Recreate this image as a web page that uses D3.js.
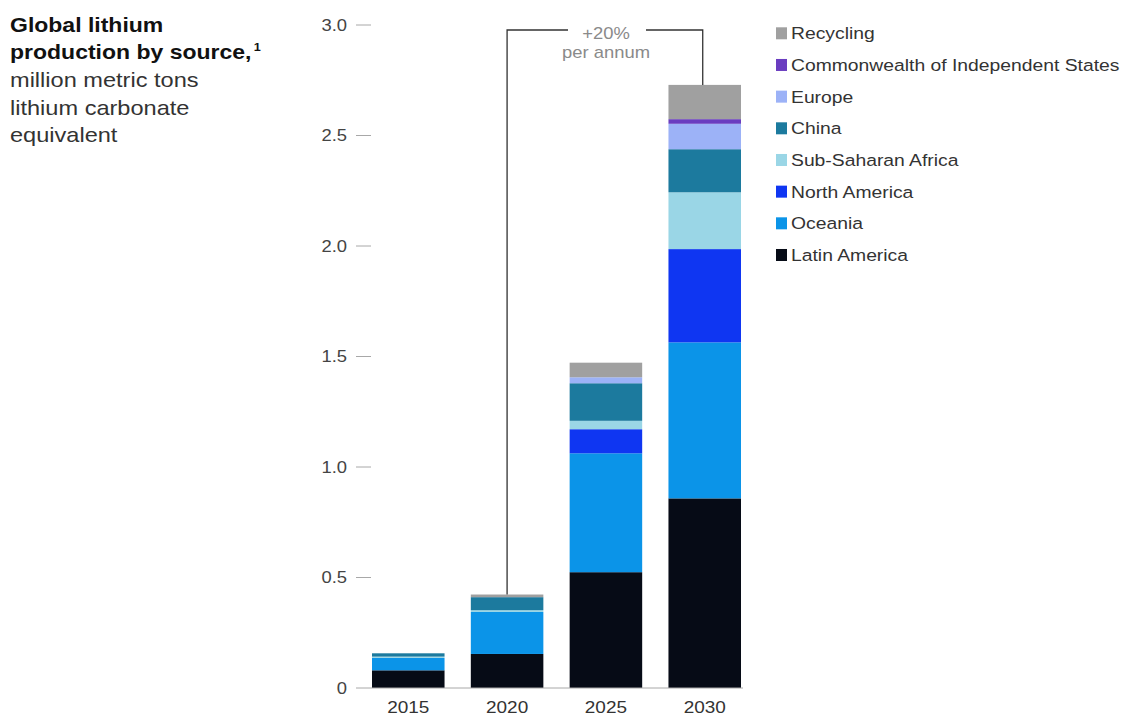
<!DOCTYPE html>
<html>
<head>
<meta charset="utf-8">
<script src="https://cdn.jsdelivr.net/npm/d3@7"></script>
<style>
  html, body { margin: 0; padding: 0; background: #ffffff; }
  svg { display: block; font-family: "Liberation Sans", Arial, Helvetica, sans-serif; }
</style>
</head>
<body>
<svg id="chart" width="1126" height="718"></svg>
<script>
// Global lithium production by source, million metric tons LCE
const years = ["2015", "2020", "2025", "2030"];
const latinAmerica     = [0.080, 0.154, 0.524, 0.858];
const oceania          = [0.056, 0.190, 0.538, 0.706];
const northAmerica     = [0.000, 0.000, 0.109, 0.422];
const subSaharanAfrica = [0.006, 0.008, 0.038, 0.257];
const china            = [0.015, 0.059, 0.170, 0.195];
const europe           = [0.000, 0.000, 0.027, 0.115];
const cis              = [0.000, 0.000, 0.000, 0.021];
const recycling        = [0.000, 0.012, 0.066, 0.155];

const yTicks = [0, 0.5, 1.0, 1.5, 2.0, 2.5, 3.0];
const yTickLabels = ["0", "0.5", "1.0", "1.5", "2.0", "2.5", "3.0"];
const growthLabel = ["+20%", "per annum"];

// stacking order: bottom to top
const seriesNames = ["Latin America", "Oceania", "North America", "Sub-Saharan Africa",
  "China", "Europe", "Commonwealth of Independent States", "Recycling"];
const seriesValues = [latinAmerica, oceania, northAmerica, subSaharanAfrica,
  china, europe, cis, recycling];
const seriesColors = ["#060b16", "#0b94e8", "#0f36f2", "#9ad6e6",
  "#1c7a9e", "#9cb2f7", "#6a3dc0", "#a0a0a0"];

const rows = years.map((y, i) => {
  const r = { year: y };
  seriesNames.forEach((n, k) => { r[n] = seriesValues[k][i]; });
  return r;
});

const svg = d3.select("#chart");
const SX = 1.15; // the typeface used here is set slightly wide

function label(g, x, y, txt, opts) {
  const t = g.append("text")
    .attr("transform", `translate(${x},${y}) scale(${SX},1)`)
    .attr("font-size", opts.size)
    .attr("fill", opts.fill || "#333")
    .attr("font-weight", opts.weight || "normal")
    .attr("text-anchor", opts.anchor || "start")
    .text(txt);
  return t;
}

// scales
const x = d3.scaleBand().domain(years).range([372, 741]).paddingInner(0.266).paddingOuter(0);
const y = d3.scaleLinear().domain([0, 3]).range([688, 25]);

// stacked bars
const stack = d3.stack().keys(seriesNames);
const layers = stack(rows);

svg.append("g").selectAll("g")
  .data(layers)
  .join("g")
  .attr("fill", (d, i) => seriesColors[i])
  .selectAll("rect")
  .data(d => d)
  .join("rect")
  .attr("x", d => x(d.data.year))
  .attr("width", x.bandwidth())
  .attr("y", d => y(d[1]))
  .attr("height", d => Math.max(0, y(d[0]) - y(d[1])));

// y axis: labels with short dashes
const yAxisG = svg.append("g");
yTicks.forEach((v, i) => {
  label(yAxisG, 347, y(v) + 5.5, yTickLabels[i], { size: 16, fill: "#444", anchor: "end" });
  yAxisG.append("line")
    .attr("x1", 356).attr("x2", 371)
    .attr("y1", y(v)).attr("y2", y(v))
    .attr("stroke", "#a8a8a8").attr("stroke-width", 1);
});

// baseline
svg.append("line")
  .attr("x1", 371).attr("x2", 743)
  .attr("y1", y(0)).attr("y2", y(0))
  .attr("stroke", "#a8a8a8").attr("stroke-width", 1);

// x labels
const xAxisG = svg.append("g");
years.forEach(yr => {
  label(xAxisG, x(yr) + x.bandwidth() / 2, 713, yr, { size: 16.5, fill: "#333", anchor: "middle" });
});

// growth bracket from 2020 to 2030
const totals = years.map((yr, i) => d3.sum(seriesValues, s => s[i]));
const xa = x("2020") + x.bandwidth() / 2;
const xb = x("2030") + x.bandwidth() / 2 - 2;
const bracketY = 30;
const ann = svg.append("g");
ann.append("path")
  .attr("d", `M${xa},${y(totals[1])} V${bracketY} H568`)
  .attr("fill", "none").attr("stroke", "#333").attr("stroke-width", 1.3);
ann.append("path")
  .attr("d", `M646,${bracketY} H${xb} V${y(totals[3])}`)
  .attr("fill", "none").attr("stroke", "#333").attr("stroke-width", 1.3);
label(ann, 606, 39, growthLabel[0], { size: 16, fill: "#8a8a8a", anchor: "middle" });
label(ann, 606, 58, growthLabel[1], { size: 16, fill: "#8a8a8a", anchor: "middle" });

// legend (top to bottom reverses the stack)
const legend = svg.append("g");
const legendOrder = seriesNames.map((n, i) => i).reverse();
legendOrder.forEach((k, j) => {
  const cy = 33.3 + j * 31.67;
  legend.append("rect")
    .attr("x", 776).attr("y", cy - 6).attr("width", 11).attr("height", 12)
    .attr("fill", seriesColors[k]);
  label(legend, 791, cy + 6, seriesNames[k], { size: 16.8, fill: "#333" });
});

// title block
const title = svg.append("g");
label(title, 10, 31.7, "Global lithium", { size: 20, fill: "#111", weight: "bold" });
const t2 = label(title, 10, 59.3, "production by source,", { size: 20, fill: "#111", weight: "bold" });
t2.append("tspan").attr("font-size", 11).attr("dy", -8).attr("dx", 2).text("1");
label(title, 10, 87, "million metric tons", { size: 20.5, fill: "#333" });
label(title, 10, 114.5, "lithium carbonate", { size: 20.5, fill: "#333" });
label(title, 10, 142, "equivalent", { size: 20.5, fill: "#333" });
</script>
</body>
</html>
